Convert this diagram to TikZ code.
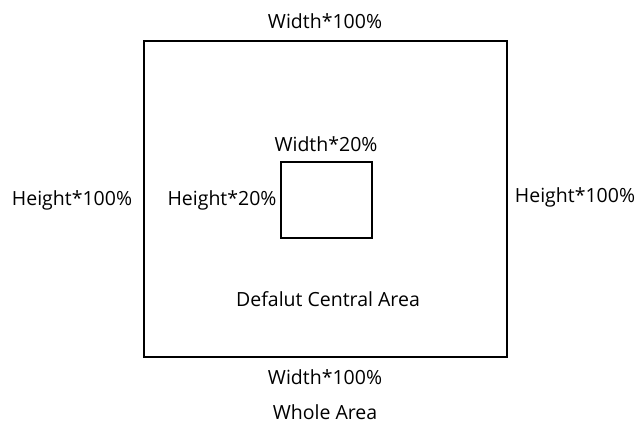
\documentclass[tikz,border=0pt]{standalone}
\usepackage{fontspec}
\setmainfont{Open Sans}
\begin{document}
\begin{tikzpicture}[x=1pt,y=1pt]
        \tikzstyle{area} = [draw, black, line width=1.3pt, inner sep=0pt]
        \tikzstyle{lbl} = [font=\fontsize{19.5}{23}\selectfont, inner sep=0pt]

        \useasboundingbox (0,0) rectangle (636,426);

        \node[area, minimum width=363pt, minimum height=316pt] (whole) at (325.5,227) {};
        \node[area, minimum width=91pt, minimum height=76pt] (central) at (326.5,226) {};

        \node[lbl] (topwidth) at (325,405) {Width*100\%};
        \node[lbl] (leftheight) at (72,226) {Height*100\%};
        \node[lbl] (rightheight) at (575,229) {Height*100\%};
        \node[lbl] (innerwidth) at (326,282) {Width*20\%};
        \node[lbl] (innerheight) at (222,226) {Height*20\%};
        \node[lbl] (centralname) at (328,127) {Defalut Central Area};
        \node[lbl] (bottomwidth) at (325,49) {Width*100\%};
        \node[lbl] (wholename) at (325,14) {Whole Area};
    \end{tikzpicture}
\end{document}
